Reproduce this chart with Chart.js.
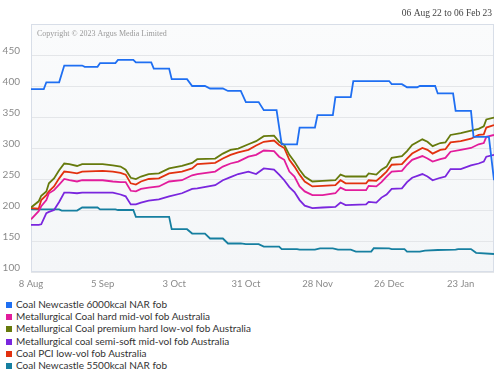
<!DOCTYPE html>
<html>
<head>
  <meta charset="utf-8">
  <title>Coal prices 06 Aug 22 to 06 Feb 23</title>
  <script src="https://cdn.jsdelivr.net/npm/chart.js"></script>
  <style>
    body { margin: 0; padding: 0; background: #fff; font-family: Lato, "Noto Sans", sans-serif; }
    #wrap { position: relative; width: 500px; height: 385px; }
    #chart { position: absolute; left: 0; top: 0; }
    #legend { position: absolute; left: 6px; top: 298px; margin: 0; padding: 0; list-style: none; }
    #legend li { height: 12.2px; line-height: 12.2px; font-size: 10px; color: #333; white-space: nowrap; }
    #legend span { display: inline-block; width: 6px; height: 6px; margin-right: 4px; vertical-align: 0px; }
  </style>
</head>
<body>
  <div id="wrap">
    <canvas id="chart" width="500" height="295"></canvas>
    <ul id="legend"></ul>
  </div>

  <script>
    // x values are days counted from 8 Aug 2022
    const tickDays = [0, 28, 56, 84, 112, 140, 168];
    const tickLabels = ['8 Aug', '5 Sep', '3 Oct', '31 Oct', '28 Nov', '26 Dec', '23 Jan'];
    const yTicks = [100, 150, 200, 250, 300, 350, 400, 450];

    // Coal Newcastle 6000kcal NAR fob (weekly steps)
    const nar6000Days = [0, 5, 6, 11, 13, 20, 21, 26, 27, 33, 34, 40, 41, 47, 48, 54, 55, 61, 63, 68, 70, 75, 77, 82, 84, 89, 91,
      96, 98, 104, 105, 111, 112, 118, 119, 125, 126, 140, 141, 145, 147, 151, 152, 158, 159, 165, 166, 172, 173, 179, 181];
    const nar6000 = [395, 395, 406, 406, 433, 433, 431, 431, 437, 437, 442, 442, 438, 438, 428, 428, 411, 411, 400, 400, 396, 396, 392, 392, 374, 374, 361,
      361, 306, 306, 333, 333, 353, 353, 382, 382, 408, 408, 403, 403, 398, 398, 400, 400, 388, 388, 360, 360, 318, 318, 248];

    // Coal Newcastle 5500kcal NAR fob
    const nar5500Days = [0, 11, 12, 18, 20, 26, 27, 33, 34, 40, 41, 54, 55, 61, 63, 68, 70, 75, 77, 82, 84, 89, 91, 97, 98,
      104, 105, 111, 113, 118, 120, 125, 127, 133, 134, 140, 141, 146, 147, 152, 154, 159, 166, 167, 172, 174, 181];
    const nar5500 = [201, 201, 199, 199, 204, 204, 201, 201, 200, 200, 189, 189, 169, 169, 162, 162, 154, 154, 146, 146, 145, 145, 141, 141, 137,
      137, 136, 136, 138, 138, 136, 136, 133, 133, 138.5, 138, 137, 137, 133, 133, 134.5, 135.5, 136, 137, 137, 131, 129];

    // Metallurgical coal assessments share one day grid
    const metDays = [0, 3, 4, 6, 7, 9, 11, 13, 15, 18, 20, 28, 32, 35, 37, 39, 41, 43, 46, 50, 54, 59, 63, 65, 72, 75, 78, 81, 85, 88, 91,
      95, 97, 99, 101, 103, 105, 107, 110, 114, 119, 121, 123, 131, 132, 135, 137, 139, 141, 145, 147, 149, 153, 155, 157, 160, 162,
      164, 168, 172, 175, 177, 178, 181];
    const hardMidVol = [185, 198, 206, 216, 227, 232, 241, 250, 248, 246, 248, 248, 246, 245, 245, 231, 230, 234, 236, 238, 246, 248, 256, 258, 262, 270, 275, 278, 286, 289, 296,
      295, 286, 281, 262, 254, 238, 230, 224, 224, 227, 236, 232, 232, 239, 238, 245, 254, 262, 263, 273, 281, 287, 283, 278, 282, 284,
      294, 297, 300, 306, 308, 318, 321];
    const premiumLowVol = [204, 214, 223, 230, 243, 251, 264, 275, 274, 271, 274, 274, 272, 270, 265, 252, 250, 254, 258, 259, 267, 271, 276, 282, 283, 291, 297, 299, 306, 311, 319,
      320, 310, 305, 289, 278, 265, 254, 246, 247, 248, 257, 254, 254, 259, 257, 265, 270, 284, 287, 295, 305, 314, 310, 303, 308, 309,
      321, 324, 328, 331, 335, 346, 349];
    const semiSoftMidVol = [176, 176, 177, 195, 197, 200, 213, 228, 228, 227, 228, 228, 228, 225, 222, 209, 209, 212, 215, 217, 222, 227, 234, 235, 240, 248, 253, 258, 262, 258, 267,
      265, 257, 248, 237, 229, 216, 207, 203, 204, 205, 212, 208, 209, 213, 212, 220, 225, 234, 235, 245, 252, 258, 254, 248, 252, 254,
      266, 266, 272, 275, 278, 286, 289];
    const pciLowVol = [203, 202, 216, 224, 230, 238, 251, 262, 261, 259, 262, 263, 262, 260, 257, 243, 241, 246, 250, 251, 259, 262, 267, 274, 276, 283, 289, 293, 297, 304, 310,
      312, 305, 300, 281, 270, 257, 246, 238, 239, 240, 248, 243, 243, 248, 247, 254, 262, 273, 274, 283, 291, 300, 297, 291, 297, 298,
      309, 311, 315, 321, 322, 333, 337];

    function pts(days, vals) {
      return days.map((d, i) => ({ x: d, y: vals[i] }));
    }

    const series = [
      { label: 'Coal Newcastle 6000kcal NAR fob', color: '#1f6ff2', data: pts(nar6000Days, nar6000) },
      { label: 'Metallurgical Coal hard mid-vol fob Australia', color: '#e21c9c', data: pts(metDays, hardMidVol) },
      { label: 'Metallurgical Coal premium hard low-vol fob Australia', color: '#667a0c', data: pts(metDays, premiumLowVol) },
      { label: 'Metallurgical coal semi-soft mid-vol fob Australia', color: '#7a26de', data: pts(metDays, semiSoftMidVol) },
      { label: 'Coal PCI low-vol fob Australia', color: '#e2310f', data: pts(metDays, pciLowVol) },
      { label: 'Coal Newcastle 5500kcal NAR fob', color: '#167fa0', data: pts(nar5500Days, nar5500) }
    ];

    // plot background, border, header and copyright
    const decor = {
      id: 'decor',
      beforeDatasetsDraw(chart) {
        const { ctx, chartArea: a } = chart;
        ctx.save();
        ctx.strokeStyle = '#d8dee8';
        ctx.lineWidth = 1;
        ctx.strokeRect(a.left + 0.5, a.top + 0.5, a.right - a.left - 1, a.bottom - a.top - 1);
        ctx.fillStyle = '#9a9a9a';
        ctx.font = '8px "Liberation Serif", serif';
        ctx.textBaseline = 'middle';
        ctx.fillText('Copyright \u00a9 2023 Argus Media Limited', a.left + 6, a.top + 10);
        ctx.restore();
      },
      beforeDraw(chart) {
        const { ctx, chartArea: a } = chart;
        ctx.save();
        const g = ctx.createLinearGradient(0, a.top, 0, a.bottom);
        g.addColorStop(0, '#fafbfc');
        g.addColorStop(1, '#f4f6f8');
        ctx.fillStyle = g;
        ctx.fillRect(a.left, a.top, a.right - a.left, a.bottom - a.top);
        ctx.fillStyle = '#444';
        ctx.font = '9.5px "Liberation Serif", serif';
        ctx.textAlign = 'right';
        ctx.textBaseline = 'middle';
        ctx.fillText('06 Aug 22 to 06 Feb 23', 492, 13);
        ctx.restore();
      }
    };

    new Chart(document.getElementById('chart'), {
      type: 'line',
      data: {
        datasets: series.map(s => ({
          label: s.label,
          data: s.data,
          borderColor: s.color,
          backgroundColor: s.color,
          borderWidth: 1.8,
          pointRadius: 0,
          tension: 0,
          fill: false
        }))
      },
      options: {
        responsive: false,
        animation: false,
        layout: { padding: { top: 24, right: 6, left: 0, bottom: 0 } },
        plugins: { legend: { display: false }, tooltip: { enabled: false } },
        scales: {
          x: {
            type: 'linear',
            min: 0,
            max: 181,
            grid: { display: false, drawTicks: false },
            border: { display: false },
            afterBuildTicks: scale => { scale.ticks = tickDays.map(v => ({ value: v })); },
            afterFit: scale => { scale.height = 23; },
            ticks: {
              padding: 6,
              maxRotation: 0,
              autoSkip: false,
              color: '#8a8a8a',
              font: { family: 'Lato', size: 9.5 },
              callback: (v, i) => tickLabels[i]
            }
          },
          y: {
            min: 100,
            max: 500,
            grid: { color: '#e4e6e9', drawTicks: false },
            border: { display: false },
            afterBuildTicks: scale => { scale.ticks = yTicks.map(v => ({ value: v })); },
            afterFit: scale => { scale.width = 31; },
            ticks: {
              padding: 11,
              labelOffset: -4,
              color: '#8a8a8a',
              font: { family: 'Lato', size: 10 }
            }
          }
        }
      },
      plugins: [decor]
    });

    // legend as a plain list below the chart
    const legend = document.getElementById('legend');
    series.forEach(s => {
      const li = document.createElement('li');
      const box = document.createElement('span');
      box.style.background = s.color;
      li.appendChild(box);
      li.appendChild(document.createTextNode(s.label));
      legend.appendChild(li);
    });
  </script>
</body>
</html>
